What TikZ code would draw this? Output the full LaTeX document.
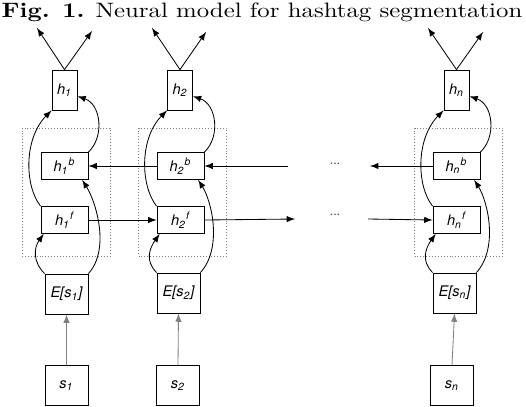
\documentclass[tikz,border=0pt]{standalone}
\usepackage{fontspec}
\newfontfamily\helv{TeX Gyre Heros}
\tikzstyle{cell-base}=[rectangle,
                       draw=black,
                       inner sep=0pt,
                       text centered,
                       font=\helv\itshape\fontsize{7}{8}\selectfont,
                      ]
\tikzstyle{outcell}=[cell-base, minimum width=12pt, minimum height=19.2pt]
\tikzstyle{hidcell}=[cell-base, minimum width=22.6pt, minimum height=13pt]
\tikzstyle{incell}=[cell-base, minimum width=20.6pt, minimum height=19.2pt]
\tikzstyle{group}=[rectangle, draw=gray, densely dotted, minimum width=42.2pt, minimum height=61.4pt]
\tikzstyle{dots}=[font=\helv\fontsize{6}{7}\selectfont, text=darkgray]

\begin{document}
\begin{tikzpicture}[x=0.48pt, y=-0.48pt]
\useasboundingbox (0,0) rectangle (526,406);
\node at (262,17) (title) [anchor=base, xscale=1.19, transform shape] {\textbf{Fig. 1.} Neural model for hashtag segmentation};

\node at (66,  192) (grp1) [group] {};
\node at (182.5,192) (grp2) [group] {};
\node at (458.5,192) (grpn) [group] {};

\node at (64.5, 90) (h1)  [outcell] {h\textsubscript{1}};
\node at (180,  90) (h2)  [outcell] {h\textsubscript{2}};
\node at (456.5,90) (hn)  [outcell] {h\textsubscript{n}};
\node at (64.5, 166) (hb1) [hidcell] {h\textsubscript{1}\textsuperscript{b}};
\node at (180.5,166) (hb2) [hidcell] {h\textsubscript{2}\textsuperscript{b}};
\node at (456.5,166) (hbn) [hidcell] {h\textsubscript{n}\textsuperscript{b}};
\node at (64.5, 220) (hf1) [hidcell] {h\textsubscript{1}\textsuperscript{f}};
\node at (180.5,220) (hf2) [hidcell] {h\textsubscript{2}\textsuperscript{f}};
\node at (456.5,220) (hfn) [hidcell] {h\textsubscript{n}\textsuperscript{f}};
\node at (66.5, 294) (e1)  [incell] {E[s\textsubscript{1}]};
\node at (178.5,293) (e2)  [incell] {E[s\textsubscript{2}]};
\node at (454.5,293) (en)  [incell] {E[s\textsubscript{n}]};
\node at (66.5, 385.5) (s1) [incell] {s\textsubscript{1}};
\node at (178,  385.5) (s2) [incell] {s\textsubscript{2}};
\node at (452,  385.5) (sn) [incell] {s\textsubscript{n}};
\node at (335,164) (bdots) [dots] {...};
\node at (335,215) (fdots) [dots] {...};

\coordinate (o1l) at (37,28);  \coordinate (o1r) at (92,31);
\coordinate (o2l) at (152,28); \coordinate (o2r) at (206,32);
\coordinate (onl) at (428,28); \coordinate (onr) at (483,32);
\coordinate (bfrom) at (288,166); \coordinate (bto) at (370,166);
\coordinate (fto) at (295,219);   \coordinate (ffrom) at (368,219);

% outputs
\draw[-latex] (h1.north) -- (o1l);
\draw[-latex] (h1.north) -- (o1r);
\draw[-latex] (h2.north) -- (o2l);
\draw[-latex] (h2.north) -- (o2r);
\draw[-latex] (hn.north) -- (onl);
\draw[-latex] (hn.north) -- (onr);

% inputs
\draw[-latex, gray] (s1.north) -- (e1.south);
\draw[-latex, gray] (s2.north) -- (e2.south);
\draw[-latex, gray] (sn.north) -- (en.south);

% recurrences
\draw[-latex] (hf1.east) -- (hf2.west);
\draw[-latex] (hf2.east) -- (fto);
\draw[-latex] (ffrom) -- (hfn.west);
\draw[-latex] (hb2.west) -- (hb1.east);
\draw[-latex] (bfrom) -- (hb2.east);
\draw[-latex] (hbn.west) -- (bto);

% column 1
\draw[-latex] (hf1.north west) .. controls +(-16,-20) and +(-28,28) .. (h1.south west);
\draw[-latex] (hb1.north east) .. controls +(16,-15) and +(24,8) .. ([yshift=-3pt]h1.east);
\draw[-latex] (e1.north west) .. controls +(-12,-12) and +(-10,14) .. ([xshift=1.5pt]hf1.south west);
\draw[-latex] (e1.north east) .. controls +(22,-24) and +(14,22) .. ([xshift=-3pt]hb1.south east);
% column 2
\draw[-latex] (hf2.north west) .. controls +(-16,-20) and +(-28,28) .. (h2.south west);
\draw[-latex] (hb2.north east) .. controls +(16,-15) and +(24,8) .. ([yshift=-3pt]h2.east);
\draw[-latex] (e2.north west) .. controls +(-12,-12) and +(-10,14) .. ([xshift=1.5pt]hf2.south west);
\draw[-latex] (e2.north east) .. controls +(22,-24) and +(14,22) .. ([xshift=-3pt]hb2.south east);
% column n
\draw[-latex] (hfn.north west) .. controls +(-16,-20) and +(-28,28) .. (hn.south west);
\draw[-latex] (hbn.north east) .. controls +(16,-15) and +(24,8) .. ([yshift=-3pt]hn.east);
\draw[-latex] (en.north west) .. controls +(-12,-12) and +(-10,14) .. ([xshift=1.5pt]hfn.south west);
\draw[-latex] (en.north east) .. controls +(22,-24) and +(14,22) .. ([xshift=-3pt]hbn.south east);
\end{tikzpicture}
\end{document}
